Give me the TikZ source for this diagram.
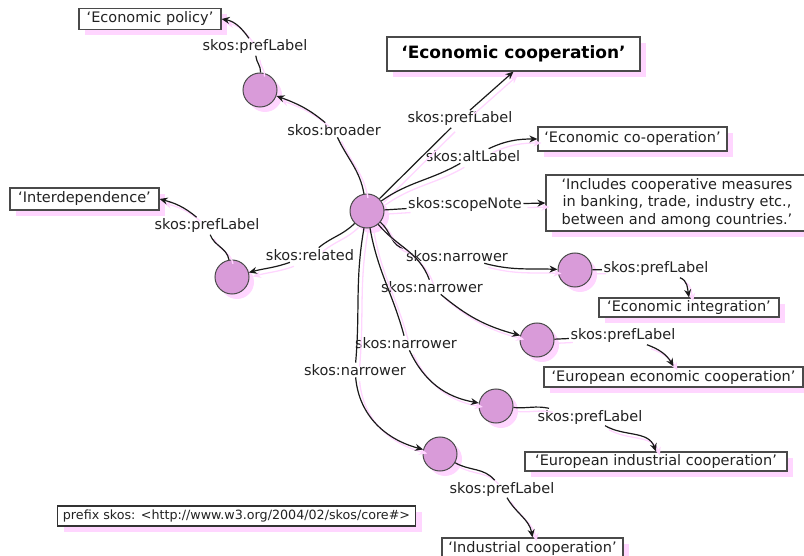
\documentclass[tikz,border=0pt]{standalone}
\usepackage{fontspec}
\setmainfont{DejaVu Sans}
\usetikzlibrary{arrows.meta,shadows}
\definecolor{nodefill}{HTML}{D99BD9}
\definecolor{shpink}{HTML}{FFD6FF}
\definecolor{linecol}{HTML}{1A1A1A}
\definecolor{bordercol}{HTML}{4A4A4A}
\definecolor{txt}{HTML}{222222}
\tikzset{
 res/.style={circle, draw=bordercol, line width=1pt, fill=nodefill, minimum size=34pt, inner sep=0pt,
   drop shadow={shadow xshift=5pt, shadow yshift=-5pt, fill=shpink, opacity=1}},
 lit/.style={draw=bordercol, line width=1.2pt, fill=white, inner sep=0pt, text=txt,
   font=\fontsize{14.5}{17.5}\selectfont,
   drop shadow={shadow xshift=6pt, shadow yshift=-6pt, fill=shpink, opacity=1}},
 lbl/.style={inner sep=1.5pt, text=txt, font=\fontsize{14.5}{17}\selectfont},
 conn/.style={draw=linecol, line width=1.2pt,
   preaction={draw=shpink, line width=1.3pt, transform canvas={shift={(4pt,-4pt)}}}},
 arr/.style={conn, -{Stealth[length=8pt,width=7pt]}},
}
\begin{document}
\begin{tikzpicture}[x=1pt,y=1pt]
\useasboundingbox (0,0) rectangle (804,-556);
% resources
\node[res] (main) at (367,-211) {};
\node[res] (broader) at (260,-90) {};
\node[res] (related) at (232,-277) {};
\node[res] (n1) at (575,-270) {};
\node[res] (n2) at (537,-340) {};
\node[res] (n3) at (496,-406) {};
\node[res] (n4) at (440,-454) {};
% literals
\node[lit, minimum width=142pt, minimum height=21pt] (ep) at (150,-19) {‘Economic policy’};
\node[lit, minimum width=149pt, minimum height=22pt] (id) at (84.5,-199) {‘Interdependence’};
\node[lit, minimum width=253pt, minimum height=34pt, font=\fontsize{17}{20}\selectfont\bfseries, text=black] (title) at (513.5,-54) {‘Economic cooperation’};
\node[lit, minimum width=189pt, minimum height=24pt] (alt) at (632.5,-139) {‘Economic co-operation’};
\node[lit, minimum width=262pt, minimum height=56pt, align=center] (scope) at (677,-203) {‘Includes cooperative measures\\in banking, trade, industry etc.,\\between and among countries.’};
\node[lit, minimum width=180pt, minimum height=19pt] (ei) at (689,-307.5) {‘Economic integration’};
\node[lit, minimum width=259pt, minimum height=20pt] (eec) at (673.5,-377) {‘European economic cooperation’};
\node[lit, minimum width=262pt, minimum height=19pt] (eic) at (656,-461.5) {‘European industrial cooperation’};
\node[lit, minimum width=181pt, minimum height=20pt] (ic) at (532.5,-548) {‘Industrial cooperation’};
\node[lit, line width=1.8pt, draw=black!80, minimum width=358pt, minimum height=20pt, font=\fontsize{12.7}{15}\selectfont] (prefix) at (236.5,-516) {prefix skos: <http://www.w3.org/2004/02/skos/core\#>};
% labels
\node[lbl] (lbr) at (334,-130) {skos:broader};
\node[lbl] (lep) at (255,-47) {skos:prefLabel};
\node[lbl] (lrel) at (310,-255) {skos:related};
\node[lbl] (lrp) at (207,-226) {skos:prefLabel};
\node[lbl] (lmp) at (460,-119) {skos:prefLabel};
\node[lbl] (lalt) at (473,-156) {skos:altLabel};
\node[lbl] (lsc) at (465,-205) {skos:scopeNote};
\node[lbl] (ln1) at (457,-256) {skos:narrower};
\node[lbl] (ln2) at (432,-287) {skos:narrower};
\node[lbl] (ln3) at (406,-343) {skos:narrower};
\node[lbl] (ln4) at (355,-370) {skos:narrower};
\node[lbl] (lp1) at (656,-269) {skos:prefLabel};
\node[lbl] (lp2) at (623,-336) {skos:prefLabel};
\node[lbl] (lp3) at (590,-417) {skos:prefLabel};
\node[lbl] (lp4) at (502,-489) {skos:prefLabel};
% connectors
\draw[conn] (main) to[out=100,in=-65] (lbr);
\draw[arr] (lbr) to[out=140,in=-20] (broader);
\draw[conn] (broader) to[out=88,in=-85] (lep);
\draw[arr] (lep) to[out=125,in=-10] (ep.east);
\draw[conn] (main) to[out=-135,in=40] (lrel);
\draw[arr] (lrel) to[out=-160,in=15] (related);
\draw[conn] (related) to[out=100,in=-70] (lrp);
\draw[arr] (lrp) to[out=140,in=-15] (id.east);
\draw[conn] (main) -- (lmp);
\draw[arr] (lmp) -- (title.south);
\draw[conn] (main) to[out=35,in=-150] (lalt);
\draw[arr] (lalt) to[out=25,in=180] (alt.west);
\draw[conn] (main) -- (lsc);
\draw[arr] (lsc) -- (scope.west);
\draw[conn] (main) to[out=-40,in=172] (ln1);
\draw[arr] (ln1) to[out=-15,in=178] (n1);
\draw[conn] (main) to[out=-50,in=110] (ln2);
\draw[arr] (ln2) to[out=-40,in=165] (n2);
\draw[conn] (main) to[out=-80,in=105] (ln3);
\draw[arr] (ln3) to[out=-65,in=170] (n3);
\draw[conn] (main) to[out=-100,in=85] (ln4);
\draw[arr] (ln4) to[out=-85,in=165] (n4);
\draw[conn] (n1) -- (lp1);
\draw[arr] (lp1) to[out=-20,in=100] (ei.north);
\draw[conn] (n2) -- (lp2);
\draw[arr] (lp2) to[out=-20,in=120] (eec.north);
\draw[conn] (n3) to[out=-5,in=168] (lp3);
\draw[arr] (lp3) to[out=-30,in=110] (eic.north);
\draw[conn] (n4) to[out=-30,in=130] (lp4);
\draw[arr] (lp4) to[out=-60,in=100] (ic.north);
\end{tikzpicture}
\end{document}
